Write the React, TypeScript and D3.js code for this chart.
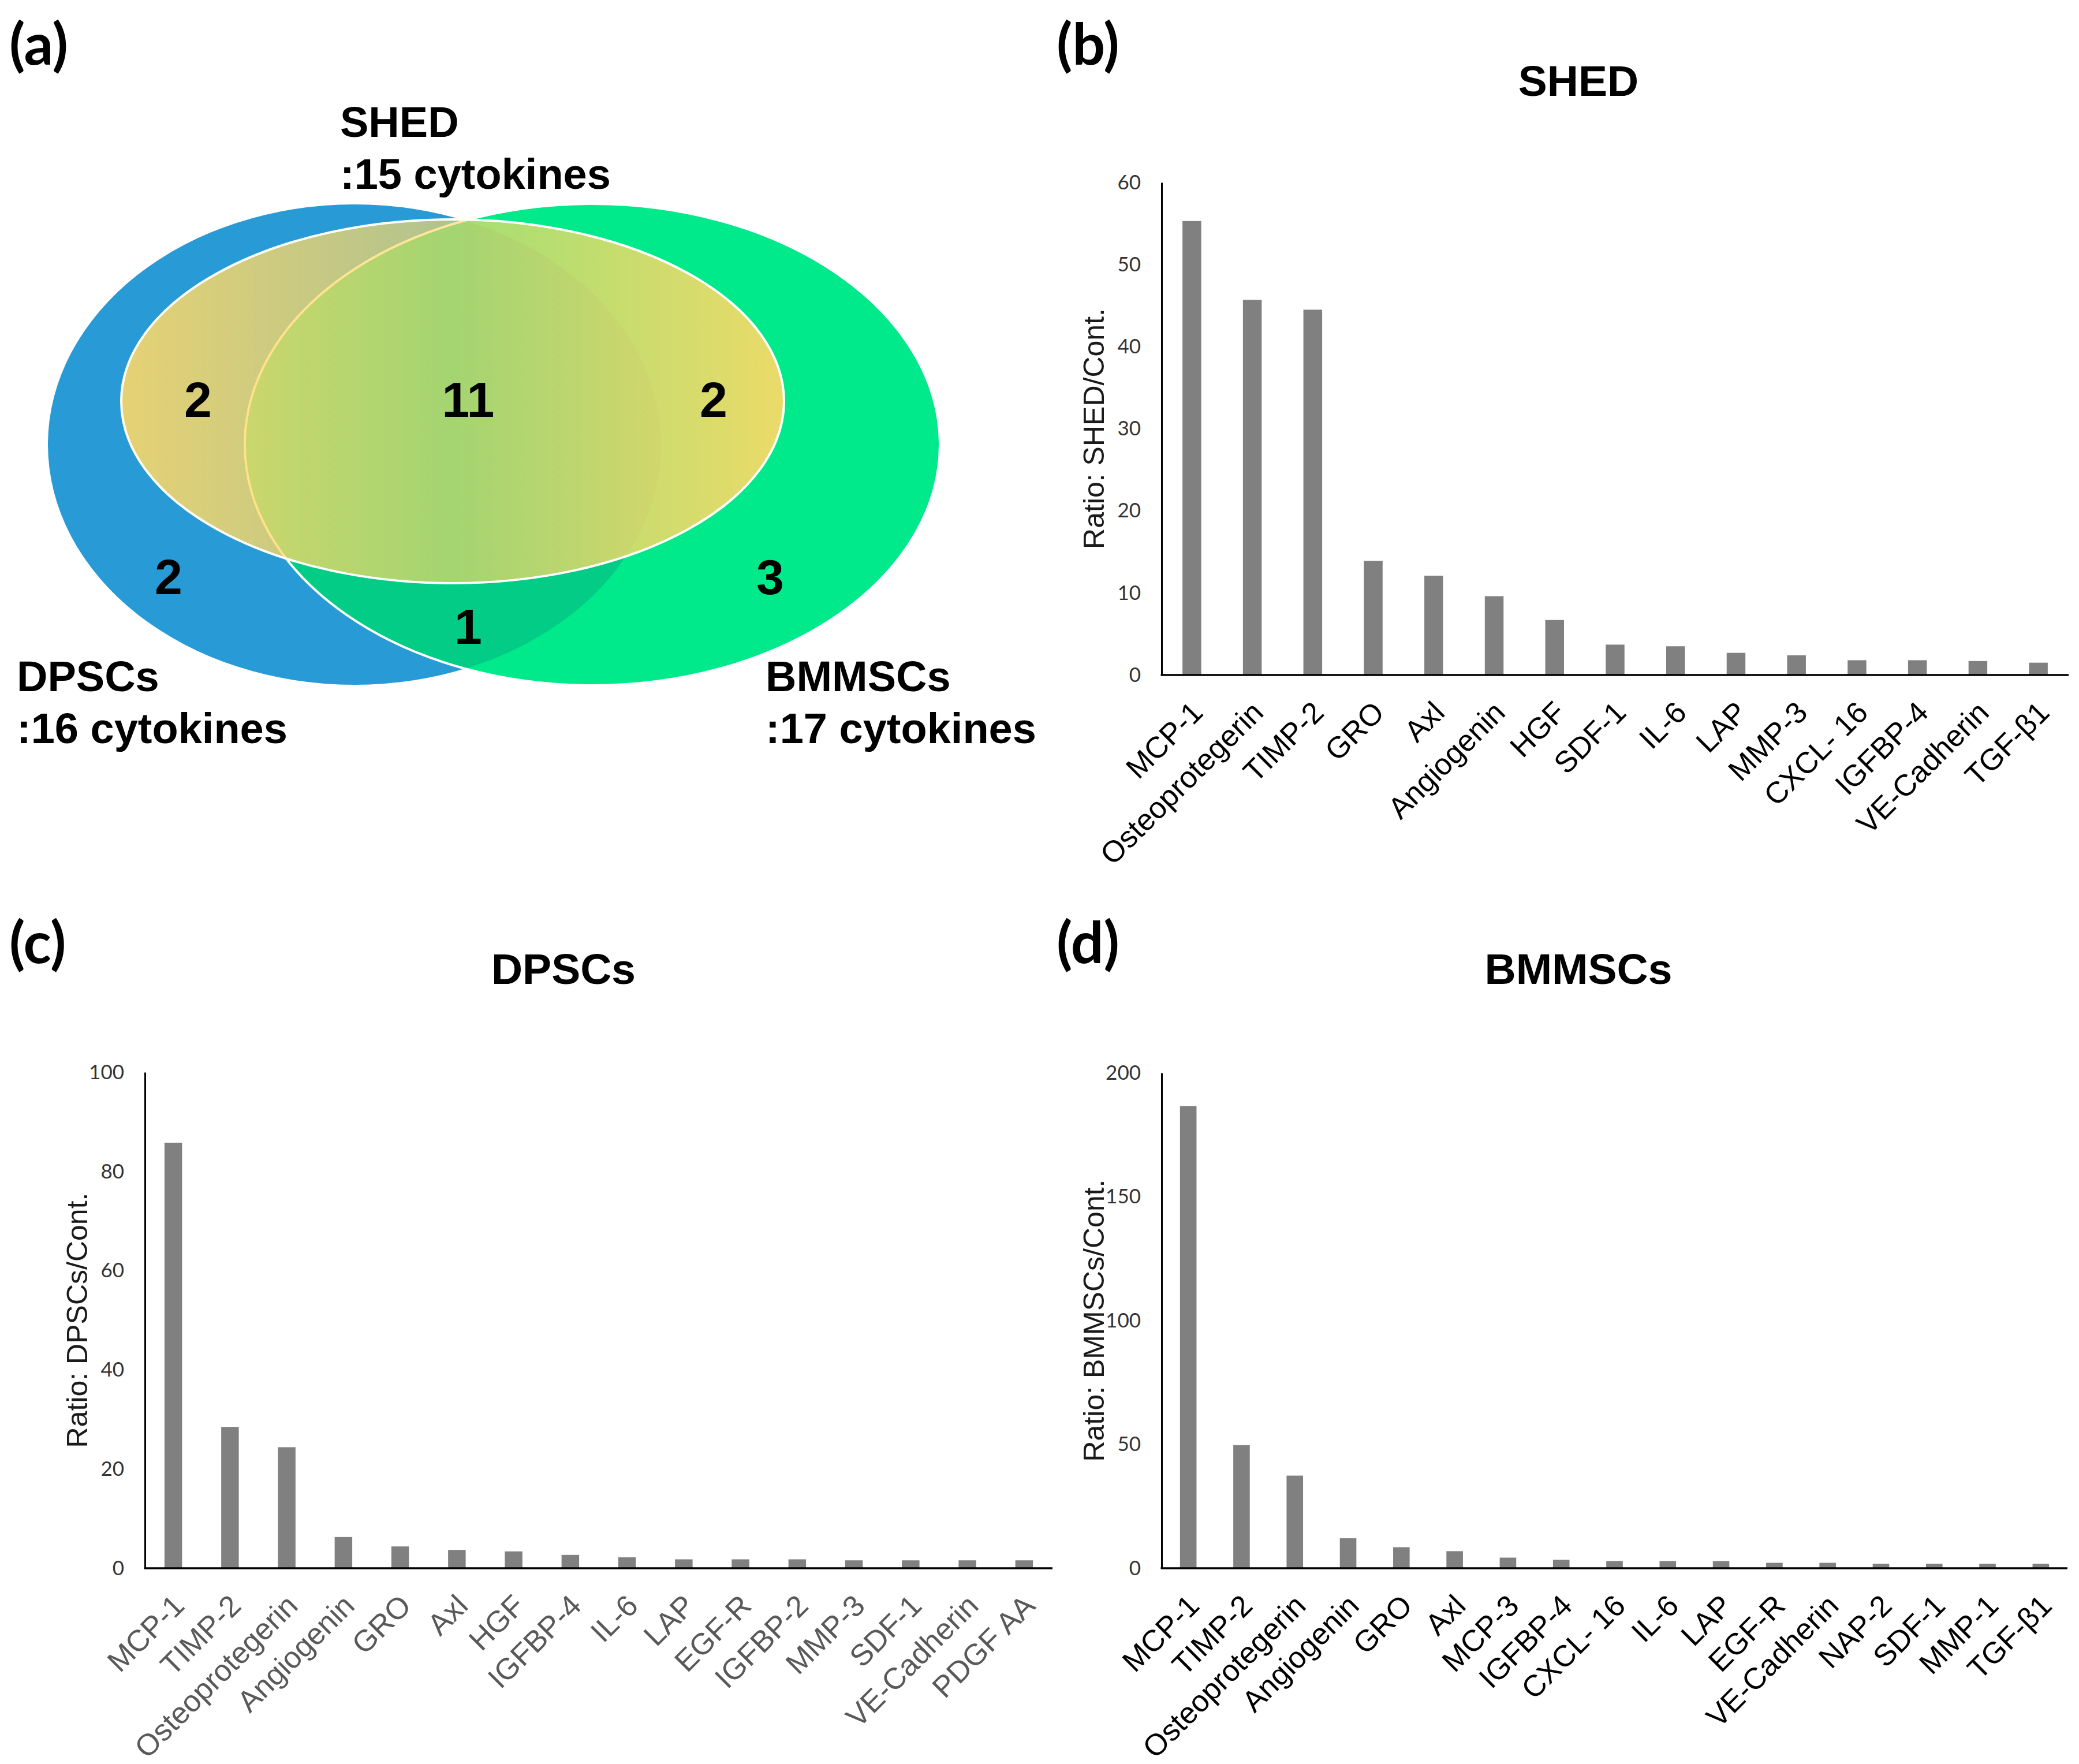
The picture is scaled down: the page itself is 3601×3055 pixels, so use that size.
import React, { useEffect, useRef } from 'react';
import * as d3 from 'd3';

const W = 3601;
const H = 3055;

// ── data ────────────────────────────────────────────────────────────────
const VENN_SETS = ['SHED', 'DPSCs', 'BMMSCs'];
const VENN_TOTALS = [15, 16, 17];
// region order: DPSCs∩SHED, all three, SHED∩BMMSCs, DPSCs only, BMMSCs only, DPSCs∩BMMSCs
const VENN_REGIONS = ['dpsc_shed', 'all', 'shed_bmmsc', 'dpsc', 'bmmsc', 'dpsc_bmmsc'];
const VENN_COUNTS = [2, 11, 2, 2, 3, 1];

const SHED_CATS = ['MCP-1', 'Osteoprotegerin', 'TIMP-2', 'GRO', 'Axl', 'Angiogenin', 'HGF', 'SDF-1',
  'IL-6', 'LAP', 'MMP-3', 'CXCL- 16', 'IGFBP-4', 'VE-Cadherin', 'TGF-β1'];
const SHED_VALS = [55.3, 45.7, 44.5, 13.9, 12.1, 9.6, 6.7, 3.7, 3.5, 2.7, 2.4, 1.8, 1.8, 1.7, 1.5];
const SHED_TICKS = [0, 10, 20, 30, 40, 50, 60];

const DPSC_CATS = ['MCP-1', 'TIMP-2', 'Osteoprotegerin', 'Angiogenin', 'GRO', 'Axl', 'HGF', 'IGFBP-4',
  'IL-6', 'LAP', 'EGF-R', 'IGFBP-2', 'MMP-3', 'SDF-1', 'VE-Cadherin', 'PDGF AA'];
const DPSC_VALS = [85.8, 28.5, 24.4, 6.3, 4.4, 3.7, 3.4, 2.7, 2.2, 1.8, 1.8, 1.8, 1.6, 1.6, 1.6, 1.6];
const DPSC_TICKS = [0, 20, 40, 60, 80, 100];

const BMMSC_CATS = ['MCP-1', 'TIMP-2', 'Osteoprotegerin', 'Angiogenin', 'GRO', 'Axl', 'MCP-3', 'IGFBP-4',
  'CXCL- 16', 'IL-6', 'LAP', 'EGF-R', 'VE-Cadherin', 'NAP-2', 'SDF-1', 'MMP-1', 'TGF-β1'];
const BMMSC_VALS = [186.6, 49.7, 37.4, 12.1, 8.5, 6.9, 4.3, 3.4, 2.9, 2.9, 2.9, 2.2, 2.2, 1.8, 1.8, 1.8, 1.8];
const BMMSC_TICKS = [0, 50, 100, 150, 200];

const ARIAL = "'Liberation Sans', Arial, sans-serif";
const CALIBRI = "Lato, 'Open Sans', sans-serif";

// ── Venn diagram (panel a) ──────────────────────────────────────────────
const BLUE = { cx: 614, cy: 770, rx: 531, ry: 416 };
const GREEN = { cx: 1026, cy: 770, rx: 602, ry: 417 };
const YELLOW = { cx: 784, cy: 695, rx: 574, ry: 315 };

const COUNT_POS: Record<string, [number, number]> = {
  dpsc_shed: [343, 722], all: [811, 722], shed_bmmsc: [1236, 722],
  dpsc: [292, 1029], bmmsc: [1334, 1029], dpsc_bmmsc: [811, 1115],
};

function Venn() {
  const setLabelPos: [number, number][] = [[589, 237], [29, 1197], [1326, 1197]];
  return (
    <g>
      <defs>
        <clipPath id="blueClip">
          <ellipse cx={BLUE.cx} cy={BLUE.cy} rx={BLUE.rx} ry={BLUE.ry} />
        </clipPath>
        <linearGradient id="shedFill" x1="0" x2="1" y1="0" y2="0">
          <stop offset="0" stopColor="#ffd966" stopOpacity={0.88} />
          <stop offset="0.5" stopColor="#ffd966" stopOpacity={0.64} />
          <stop offset="1" stopColor="#ffd966" stopOpacity={0.92} />
        </linearGradient>
      </defs>
      <ellipse cx={BLUE.cx} cy={BLUE.cy} rx={BLUE.rx} ry={BLUE.ry} fill="#289bd7" />
      <ellipse cx={GREEN.cx} cy={GREEN.cy} rx={GREEN.rx} ry={GREEN.ry} fill="#00e98a" />
      <ellipse cx={GREEN.cx} cy={GREEN.cy} rx={GREEN.rx} ry={GREEN.ry} fill="#02cc85" clipPath="url(#blueClip)" />
      <ellipse cx={GREEN.cx} cy={GREEN.cy} rx={GREEN.rx} ry={GREEN.ry} fill="none" stroke="#fff" strokeWidth={4} />
      <ellipse cx={YELLOW.cx} cy={YELLOW.cy} rx={YELLOW.rx} ry={YELLOW.ry} fill="url(#shedFill)" stroke="#fff" strokeWidth={4} />

      {VENN_REGIONS.map((r, i) => (
        <text key={r} x={COUNT_POS[r][0]} y={COUNT_POS[r][1]} textAnchor="middle"
          fontFamily={ARIAL} fontWeight="bold" fontSize={86} fill="#000">{VENN_COUNTS[i]}</text>
      ))}

      {VENN_SETS.map((s, i) => (
        <text key={s} x={setLabelPos[i][0]} y={setLabelPos[i][1]} fontFamily={ARIAL} fontWeight="bold" fontSize={74} fill="#000">
          <tspan x={setLabelPos[i][0]}>{s}</tspan>
          <tspan x={setLabelPos[i][0]} dy={90}>{`:${VENN_TOTALS[i]} cytokines`}</tspan>
        </text>
      ))}
    </g>
  );
}

// ── bar panels (b, c, d) ────────────────────────────────────────────────
interface BarPanelProps {
  title: string;
  categories: string[];
  values: number[];
  ticks: number[];
  yLabel: string;
  x0: number;
  x1: number;
  yTop: number;
  yZero: number;
  titleX: number;
  titleY: number;
  labelColor: string;
}

function BarPanel({ title, categories, values, ticks, yLabel, x0, x1, yTop, yZero, titleX, titleY, labelColor }: BarPanelProps) {
  const ref = useRef<SVGGElement>(null);

  useEffect(() => {
    const g = d3.select(ref.current);
    g.selectAll('*').remove();

    const x = d3.scaleBand<string>().domain(categories).range([x0, x1]).paddingInner(0.69).paddingOuter(0.345);
    const y = d3.scaleLinear().domain([0, d3.max(ticks) as number]).range([yZero, yTop]);

    g.selectAll('rect.bar')
      .data(values)
      .join('rect')
      .attr('class', 'bar')
      .attr('x', (_, i) => x(categories[i]) as number)
      .attr('y', d => y(d))
      .attr('width', x.bandwidth())
      .attr('height', d => yZero - y(d))
      .attr('fill', '#808080');

    // y axis: no tick marks, only numbers + spine
    const yAxis = d3.axisLeft(y).tickValues(ticks).tickSize(0).tickPadding(36).tickFormat(d3.format('d'));
    const yg = g.append('g').attr('transform', `translate(${x0},0)`).call(yAxis);
    yg.select('.domain').attr('stroke', '#000').attr('stroke-width', 3);
    yg.selectAll('text')
      .attr('font-family', CALIBRI)
      .attr('font-size', 35)
      .attr('fill', '#333');

    // x axis spine
    g.append('line')
      .attr('x1', x0 - 1.5).attr('x2', x1)
      .attr('y1', yZero).attr('y2', yZero)
      .attr('stroke', '#000').attr('stroke-width', 3.5);

    // rotated category labels
    g.selectAll('text.cat')
      .data(categories)
      .join('text')
      .attr('class', 'cat')
      .attr('transform', d => `translate(${(x(d) as number) + x.bandwidth() / 2 + 22},${yZero + 68}) rotate(-45)`)
      .attr('text-anchor', 'end')
      .attr('font-family', ARIAL)
      .attr('font-size', 52)
      .attr('fill', labelColor)
      .text(d => d);

    // y axis title
    g.append('text')
      .attr('transform', `translate(${x0 - 100},${(yTop + yZero) / 2}) rotate(-90)`)
      .attr('text-anchor', 'middle')
      .attr('font-family', ARIAL)
      .attr('font-size', 50)
      .attr('fill', '#1a1a1a')
      .text(yLabel);

    // panel title
    g.append('text')
      .attr('x', titleX)
      .attr('y', titleY)
      .attr('text-anchor', 'middle')
      .attr('font-family', ARIAL)
      .attr('font-weight', 'bold')
      .attr('font-size', 75)
      .attr('fill', '#000')
      .text(title);
  }, [title, categories, values, ticks, yLabel, x0, x1, yTop, yZero, titleX, titleY, labelColor]);

  return <g ref={ref} />;
}

function PanelLetter({ x, y, letter }: { x: number; y: number; letter: string }) {
  return (
    <text x={x} y={y} fontFamily={CALIBRI} fontWeight="bold" fontSize={100} fill="#000">{`(${letter})`}</text>
  );
}

export default function App() {
  return (
    <div style={{ position: 'absolute', left: 0, top: 0 }}>
      <svg width={W} height={H} viewBox={`0 0 ${W} ${H}`} style={{ display: 'block', background: '#fff' }}>
        <rect width={W} height={H} fill="#fff" />
        <PanelLetter x={16} y={112} letter="a" />
        <PanelLetter x={1830} y={112} letter="b" />
        <PanelLetter x={16} y={1668} letter="c" />
        <PanelLetter x={1830} y={1668} letter="d" />

        <Venn />

        <BarPanel title="SHED" categories={SHED_CATS} values={SHED_VALS} ticks={SHED_TICKS}
          yLabel="Ratio: SHED/Cont." x0={2012} x1={3583} yTop={316} yZero={1169}
          titleX={2734} titleY={166} labelColor="#000" />
        <BarPanel title="DPSCs" categories={DPSC_CATS} values={DPSC_VALS} ticks={DPSC_TICKS}
          yLabel="Ratio: DPSCs/Cont." x0={251} x1={1823} yTop={1857} yZero={2716}
          titleX={976} titleY={1704} labelColor="#595959" />
        <BarPanel title="BMMSCs" categories={BMMSC_CATS} values={BMMSC_VALS} ticks={BMMSC_TICKS}
          yLabel="Ratio: BMMSCs/Cont." x0={2012} x1={3581} yTop={1858} yZero={2716}
          titleX={2734} titleY={1704} labelColor="#000" />
      </svg>
    </div>
  );
}
